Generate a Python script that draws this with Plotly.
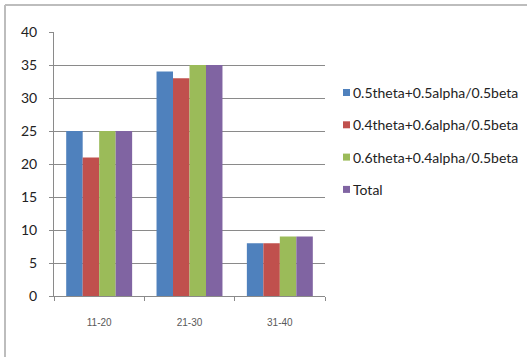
import plotly.graph_objects as go

# Age bands and series values
categories = ["11-20", "21-30", "31-40"]
series_names = [
    "0.5theta+0.5alpha/0.5beta",
    "0.4theta+0.6alpha/0.5beta",
    "0.6theta+0.4alpha/0.5beta",
    "Total",
]
series_values = [
    [25, 34, 8],
    [21, 33, 8],
    [25, 35, 9],
    [25, 35, 9],
]
series_colors = ["#4F81BD", "#C0504D", "#9BBB59", "#8064A2"]
y_ticks = [0, 5, 10, 15, 20, 25, 30, 35, 40]

W, H = 527, 357
grid = "#8a8a8a"
text_font = "Lato"

fig = go.Figure()
for name, vals, col in zip(series_names, series_values, series_colors):
    fig.add_trace(go.Bar(
        x=categories, y=vals, name=name,
        marker=dict(color=col, line=dict(width=0)),
        showlegend=False,
    ))

# Legend drawn beside the plot: small colour squares with text labels
shapes = [
    dict(type="line", xref="paper", yref="paper",
         x0=5 / W, x1=5 / W, y0=0, y1=1 - 5 / H,
         line=dict(color="#bdbdbd", width=2)),
    dict(type="line", xref="paper", yref="paper",
         x0=5 / W, x1=1, y0=1 - 5 / H, y1=1 - 5 / H,
         line=dict(color="#bdbdbd", width=2)),
]
annotations = []
leg_x, leg_y0, leg_dy, sq = 343, 92.5, 32.3, 7
for i, (name, col) in enumerate(zip(series_names, series_colors)):
    yc = leg_y0 + i * leg_dy
    shapes.append(dict(
        type="rect", xref="paper", yref="paper",
        x0=leg_x / W, x1=(leg_x + sq) / W,
        y0=1 - (yc + sq / 2) / H, y1=1 - (yc - sq / 2) / H,
        fillcolor=col, line=dict(width=0),
    ))
    annotations.append(dict(
        xref="paper", yref="paper",
        x=(leg_x + sq + 1) / W, y=1 - yc / H,
        xanchor="left", yanchor="middle", showarrow=False,
        text=name, font=dict(family=text_font, size=14, color="#222222"),
    ))

fig.update_layout(
    width=W, height=H,
    margin=dict(l=0, r=0, t=0, b=0),
    paper_bgcolor="white", plot_bgcolor="white",
    barmode="group", bargap=0.27, bargroupgap=0,
    xaxis=dict(
        domain=[54 / W, 325 / W], automargin=False,
        showgrid=False, showline=True, linecolor=grid, linewidth=1,
        ticks="outside", ticklen=4, tickcolor=grid, tickson="boundaries",
        tickfont=dict(family="Liberation Sans", size=10, color="#595959"),
        ticklabelstandoff=17,
    ),
    yaxis=dict(
        domain=[1 - 296 / H, 1 - 32 / H], automargin=False,
        range=[0, 40], tickvals=y_ticks,
        showgrid=True, gridcolor=grid, gridwidth=1,
        showline=True, linecolor=grid, linewidth=1,
        ticks="outside", ticklen=4, tickcolor=grid,
        zeroline=False,
        tickfont=dict(family=text_font, size=14, color="#222222"),
        ticklabelstandoff=9,
    ),
    showlegend=False,
    shapes=shapes,
    annotations=annotations,
)

fig.write_html("out.html")
